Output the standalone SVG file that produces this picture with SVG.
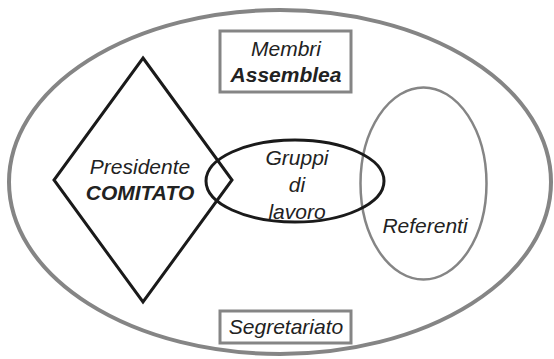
<svg xmlns="http://www.w3.org/2000/svg" width="554" height="359" viewBox="0 0 554 359">
<style>
.g{fill:none;stroke:#858585}
.k{fill:none;stroke:#1a1a1a}
text{font-family:"Liberation Sans",Arial,sans-serif;font-size:21px;font-style:italic;fill:#222;text-anchor:middle}
.b{font-weight:bold}
</style>
<rect width="554" height="359" fill="#fff"/>
<g id="outer"><ellipse class="g" cx="280" cy="182" rx="271" ry="172" stroke-width="4"/></g>
<g id="membri"><rect class="g" x="220" y="31" width="131" height="61" stroke-width="3"/>
<text x="286" y="56">Membri</text><text class="b" x="286" y="82">Assemblea</text></g>
<g id="referenti"><ellipse class="g" cx="423.5" cy="183.5" rx="63" ry="96" stroke-width="2.5"/>
<text x="425" y="233">Referenti</text></g>
<g id="presidente"><polygon class="k" points="143,58 232,180 143,302 54,180" stroke-width="3"/>
<text x="140" y="174">Presidente</text><text class="b" x="140" y="200">COMITATO</text></g>
<g id="gruppi"><ellipse class="k" cx="295" cy="181" rx="89" ry="41" stroke-width="3"/>
<text x="297" y="165">Gruppi</text><text x="297" y="192">di</text><text x="297" y="219">lavoro</text></g>
<g id="segretariato"><rect class="g" x="220" y="311" width="131" height="32" stroke-width="3"/>
<text x="286" y="334">Segretariato</text></g>
<g id="connectors"/>
</svg>
